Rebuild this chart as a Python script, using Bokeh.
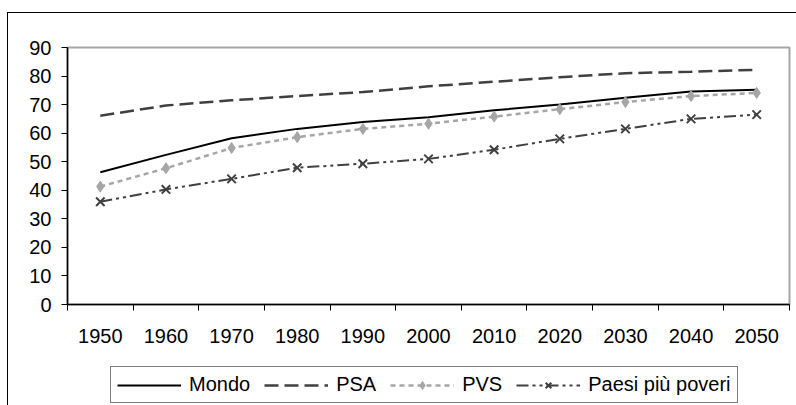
from bokeh.plotting import figure
from bokeh.models import FixedTicker, Legend, LegendItem, Range1d
from bokeh.layouts import column
from bokeh.embed import file_html
from bokeh.resources import INLINE

years = [1950, 1960, 1970, 1980, 1990, 2000, 2010, 2020, 2030, 2040, 2050]
mondo = [46.3, 52.4, 58.2, 61.5, 63.9, 65.6, 68.0, 70.0, 72.4, 74.6, 75.2]
psa = [66.1, 69.7, 71.5, 73.0, 74.4, 76.4, 78.0, 79.6, 81.0, 81.5, 82.2]
pvs = [41.3, 47.7, 54.8, 58.6, 61.5, 63.3, 65.8, 68.4, 70.9, 73.0, 74.1]
poveri = [36.0, 40.3, 44.0, 47.9, 49.3, 51.0, 54.2, 58.0, 61.5, 65.0, 66.5]
series_names = ["Mondo", "PSA", "PVS", "Paesi più poveri"]
y_ticks = [0, 10, 20, 30, 40, 50, 60, 70, 80, 90]

FONT = "Liberation Sans"
STYLES = [
    dict(line_color="black", line_width=2),
    dict(line_color="#404040", line_width=2.5, line_dash="14 6"),
    dict(line_color="#a6a6a6", line_width=2.5, line_dash="5 4"),
    dict(line_color="#404040", line_width=2, line_dash="12 4 3 4 3 4"),
]
DIAMOND = dict(marker="diamond", size=11, fill_color="#a6a6a6", line_color="#a6a6a6")
CROSS = dict(marker="x", size=12, line_color="#404040", line_width=2)

p = figure(width=788, height=349, output_backend="svg", toolbar_location=None,
           x_range=Range1d(1945, 2055), y_range=Range1d(0, 90),
           min_border_left=59, min_border_right=7, min_border_top=34, min_border_bottom=58)
p.background_fill_color = "white"
p.border_fill_color = "white"
p.outline_line_color = "#a6a6a6"
p.outline_line_width = 2
p.xgrid.visible = False
p.ygrid.visible = False

boundaries = [y - 5 for y in years] + [years[-1] + 5]
p.xaxis.ticker = FixedTicker(ticks=years, minor_ticks=boundaries)
p.xaxis.major_tick_out = 0
p.xaxis.major_tick_in = 0
p.xaxis.minor_tick_out = 6
p.xaxis.minor_tick_in = 0
p.xaxis.major_label_standoff = 18
p.yaxis.ticker = FixedTicker(ticks=y_ticks, minor_ticks=[])
p.yaxis.major_tick_out = 6
p.yaxis.major_tick_in = 0
p.yaxis.minor_tick_out = 0
p.yaxis.major_label_standoff = 10
for ax in (p.xaxis, p.yaxis):
    ax.axis_line_color = "black"
    ax.axis_line_width = 1.5
    ax.major_tick_line_color = "black"
    ax.minor_tick_line_color = "black"
    ax.major_label_text_font = FONT
    ax.major_label_text_font_size = "20px"
    ax.major_label_text_color = "black"

p.line(years, mondo, **STYLES[0])
p.line(years, psa, **STYLES[1])
p.line(years, pvs, **STYLES[2])
p.scatter(years, pvs, **DIAMOND)
p.line(years, poveri, **STYLES[3])
p.scatter(years, poveri, **CROSS)

# legend strip below the chart (its renderers lie outside its visible range)
q = figure(width=788, height=43, output_backend="svg", toolbar_location=None,
           x_axis_type=None, y_axis_type=None,
           x_range=Range1d(0, 1), y_range=Range1d(0, 1),
           min_border_left=0, min_border_right=0, min_border_top=0, min_border_bottom=0)
q.outline_line_color = None
q.background_fill_color = "white"
q.border_fill_color = "white"
q.xgrid.visible = False
q.ygrid.visible = False
l1 = q.line(years, mondo, **STYLES[0])
l2 = q.line(years, psa, **STYLES[1])
l3 = q.line(years, pvs, **STYLES[2])
l3m = q.scatter(years, pvs, **DIAMOND)
l4 = q.line(years, poveri, **STYLES[3])
l4m = q.scatter(years, poveri, **CROSS)

legend = Legend(items=[
    LegendItem(label=series_names[0], renderers=[l1]),
    LegendItem(label=series_names[1], renderers=[l2]),
    LegendItem(label=series_names[2], renderers=[l3, l3m]),
    LegendItem(label=series_names[3], renderers=[l4, l4m]),
], orientation="horizontal", location=(43, 2))
legend.label_text_font = FONT
legend.label_text_font_size = "20px"
legend.label_text_color = "black"
legend.glyph_width = 64
legend.glyph_height = 20
legend.label_standoff = 8
legend.spacing = 14
legend.padding = 6
legend.margin = 0
legend.border_line_color = "black"
legend.border_line_width = 1
legend.background_fill_alpha = 1
q.add_layout(legend, "center")

layout = column(p, q, spacing=0, margin=(12, 0, 0, 7),
                styles={"border-top": "1px solid black", "border-left": "1px solid black"})

open("out.html", "w").write(file_html(layout, INLINE))
